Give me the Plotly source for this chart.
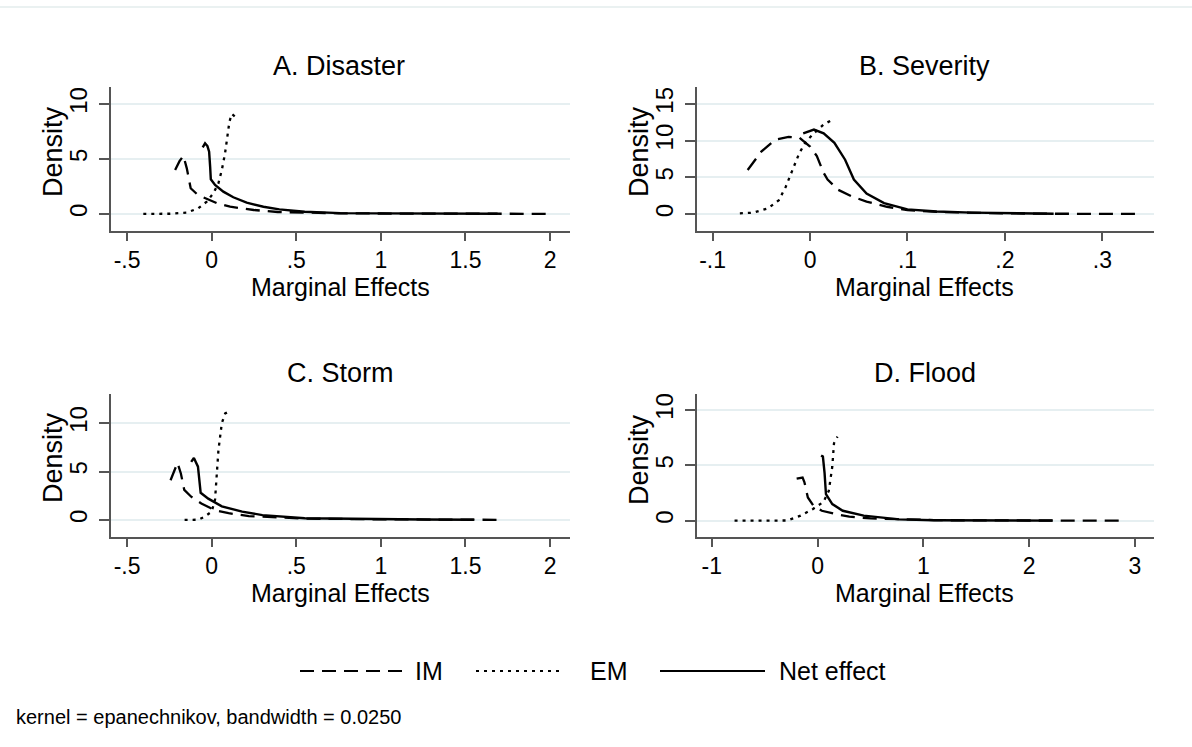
import plotly.graph_objects as go

# ---------------- data ----------------
# Panel A. Disaster
a_im_x = [-0.216, -0.19, -0.167, -0.147, -0.124, -0.088, -0.05, -0.009, 0.035, 0.109, 0.167, 0.249, 0.39, 0.55, 0.75, 1.0, 1.3, 1.6, 2.02]
a_im_y = [4.0, 4.8, 5.3, 4.15, 2.34, 1.82, 1.52, 1.27, 0.96, 0.66, 0.51, 0.36, 0.18, 0.1, 0.06, 0.04, 0.03, 0.02, 0.01]
a_em_x = [-0.404, -0.3, -0.246, -0.147, -0.079, -0.029, 0.010, 0.040, 0.060, 0.079, 0.093, 0.105, 0.119, 0.138]
a_em_y = [0.01, 0.01, 0.02, 0.12, 0.52, 1.12, 1.88, 2.79, 4.0, 5.5, 7.03, 8.4, 9.1, 8.85]
a_net_x = [-0.053, -0.039, -0.025, -0.015, -0.009, -0.005, 0.020, 0.069, 0.128, 0.207, 0.306, 0.40, 0.55, 0.76, 1.0, 1.3, 1.69]
a_net_y = [6.06, 6.43, 6.18, 5.67, 4.3, 3.15, 2.64, 2.03, 1.52, 1.03, 0.66, 0.42, 0.2, 0.08, 0.05, 0.03, 0.02]

# Panel B. Severity
b_im_x = [-0.064, -0.050, -0.036, -0.022, -0.011, 0.0, 0.007, 0.014, 0.018, 0.029, 0.043, 0.058, 0.079, 0.1, 0.13, 0.166, 0.2, 0.25, 0.3, 0.34]
b_im_y = [6.0, 8.5, 10.1, 10.5, 10.4, 9.2, 7.9, 5.6, 4.7, 3.3, 2.4, 1.7, 1.0, 0.55, 0.3, 0.18, 0.1, 0.05, 0.03, 0.02]
b_em_x = [-0.072, -0.058, -0.043, -0.032, -0.025, -0.018, -0.011, -0.004, 0.004, 0.014, 0.025]
b_em_y = [0.1, 0.2, 0.8, 1.9, 3.7, 6.0, 8.3, 9.9, 11.0, 12.2, 13.0]
b_net_x = [-0.007, 0.004, 0.014, 0.025, 0.036, 0.045, 0.058, 0.076, 0.1, 0.13, 0.166, 0.2, 0.25]
b_net_y = [11.0, 11.5, 11.0, 9.7, 7.4, 4.7, 2.8, 1.5, 0.65, 0.35, 0.2, 0.1, 0.05]

# Panel C. Storm
c_im_x = [-0.243, -0.202, -0.182, -0.162, -0.121, -0.061, 0.02, 0.1, 0.22, 0.34, 0.55, 0.95, 1.36, 1.72]
c_im_y = [4.1, 5.9, 4.8, 3.1, 2.4, 1.7, 1.0, 0.7, 0.4, 0.28, 0.14, 0.07, 0.03, 0.01]
c_em_x = [-0.16, -0.08, -0.04, 0.0, 0.02, 0.03, 0.04, 0.06, 0.08, 0.1]
c_em_y = [0.01, 0.02, 0.35, 0.86, 2.1, 4.8, 7.2, 10.0, 11.0, 11.2]
c_net_x = [-0.121, -0.105, -0.081, -0.065, -0.02, 0.06, 0.18, 0.3, 0.55, 0.95, 1.25, 1.55]
c_net_y = [6.0, 6.4, 5.5, 2.8, 2.2, 1.4, 0.86, 0.5, 0.17, 0.07, 0.04, 0.02]

# Panel D. Flood
d_im_x = [-0.198, -0.142, -0.125, -0.092, -0.043, 0.04, 0.17, 0.3, 0.5, 0.77, 1.1, 1.43, 2.09, 2.5, 2.85]
d_im_y = [3.8, 3.9, 3.5, 2.1, 1.4, 0.9, 0.6, 0.37, 0.21, 0.12, 0.06, 0.03, 0.01, 0.01, 0.01]
d_em_x = [-0.785, -0.5, -0.29, -0.16, -0.043, 0.056, 0.106, 0.139, 0.155, 0.188]
d_em_y = [0.01, 0.01, 0.02, 0.46, 1.07, 1.7, 2.7, 4.9, 7.0, 7.6]
d_net_x = [0.033, 0.05, 0.066, 0.079, 0.139, 0.238, 0.436, 0.77, 1.1, 1.6, 2.22]
d_net_y = [5.9, 5.8, 4.3, 2.4, 1.5, 0.9, 0.46, 0.12, 0.05, 0.02, 0.01]

panel_titles = ["A. Disaster", "B. Severity", "C. Storm", "D. Flood"]
series_names = ["IM", "EM", "Net effect"]

# tick values / labels
ac_xticks = [-0.5, 0, 0.5, 1, 1.5, 2]
ac_xlabels = ["-.5", "0", ".5", "1", "1.5", "2"]
b_xticks = [-0.1, 0, 0.1, 0.2, 0.3]
b_xlabels = ["-.1", "0", ".1", ".2", ".3"]
d_xticks = [-1, 0, 1, 2, 3]
d_xlabels = ["-1", "0", "1", "2", "3"]
acd_yticks = [0, 5, 10]
b_yticks = [0, 5, 10, 15]

# ---------------- figure ----------------
W, H = 1192, 747
FONT = "Liberation Sans, Arial, sans-serif"

def px(x):
    return x / W

def py(y):
    return 1 - y / H

styles = {
    "IM": dict(color="black", width=2.3, dash="14px,8px"),
    "EM": dict(color="black", width=2.3, dash="3px,5px"),
    "Net effect": dict(color="black", width=2.4, dash="solid"),
}

panels = [
    ("x", "y", [(a_im_x, a_im_y), (a_em_x, a_em_y), (a_net_x, a_net_y)]),
    ("x2", "y2", [(b_im_x, b_im_y), (b_em_x, b_em_y), (b_net_x, b_net_y)]),
    ("x3", "y3", [(c_im_x, c_im_y), (c_em_x, c_em_y), (c_net_x, c_net_y)]),
    ("x4", "y4", [(d_im_x, d_im_y), (d_em_x, d_em_y), (d_net_x, d_net_y)]),
]

fig = go.Figure()
for xa, ya, series in panels:
    for name, (xs, ys) in zip(series_names, series):
        fig.add_trace(go.Scatter(x=xs, y=ys, mode="lines", name=name,
                                 line=styles[name], xaxis=xa, yaxis=ya,
                                 showlegend=False, hoverinfo="skip"))

col1 = [px(111), px(570)]
col2 = [px(697), px(1154)]
row1 = [py(231), py(87)]
row2 = [py(537), py(394)]

def xaxis(domain, anchor, rng, tv, tt):
    return dict(domain=domain, anchor=anchor, range=rng, tickvals=tv, ticktext=tt,
                showgrid=False, zeroline=False, showline=True, linecolor="#555555",
                linewidth=1.5, ticks="outside", ticklen=8, tickwidth=1.5, tickcolor="#555555",
                tickfont=dict(family=FONT, size=23, color="black"))

def yaxis(domain, anchor, rng, tv):
    return dict(domain=domain, anchor=anchor, range=rng, tickvals=tv,
                showgrid=True, gridcolor="#e6eff1", gridwidth=2, zeroline=False,
                showline=True, linecolor="#555555", linewidth=1.5,
                ticks="outside", ticklen=10, tickwidth=1.5, tickcolor="#555555",
                tickangle=-90, ticklabelstandoff=3,
                tickfont=dict(family=FONT, size=24, color="black"))

fig.update_layout(
    width=W, height=H, autosize=False,
    margin=dict(l=0, r=0, t=0, b=0),
    paper_bgcolor="white", plot_bgcolor="white",
    xaxis=xaxis(col1, "y", [-0.595, 2.118], ac_xticks, ac_xlabels),
    yaxis=yaxis(row1, "x", [-1.55, 11.55], acd_yticks),
    xaxis2=xaxis(col2, "y2", [-0.116, 0.353], b_xticks, b_xlabels),
    yaxis2=yaxis(row1, "x2", [-2.3, 17.3], b_yticks),
    xaxis3=xaxis(col1, "y3", [-0.595, 2.118], ac_xticks, ac_xlabels),
    yaxis3=yaxis(row2, "x3", [-1.76, 13.0], acd_yticks),
    xaxis4=xaxis(col2, "y4", [-1.14, 3.18], d_xticks, d_xlabels),
    yaxis4=yaxis(row2, "x4", [-1.47, 11.45], acd_yticks),
    showlegend=False,
)

ann = []
# panel titles
for t, (cx, cy) in zip(panel_titles, [(339, 66), (925, 66), (340, 373), (925, 373)]):
    ann.append(dict(text=t, x=px(cx), y=py(cy), xref="paper", yref="paper",
                    showarrow=False, xanchor="center", yanchor="middle",
                    font=dict(family=FONT, size=27, color="black")))
# x-axis titles
for cx, cy in [(340, 287), (925, 287), (340, 593), (925, 593)]:
    ann.append(dict(text="Marginal Effects", x=px(cx), y=py(cy), xref="paper", yref="paper",
                    showarrow=False, xanchor="center", yanchor="middle",
                    font=dict(family=FONT, size=25, color="black")))
# y-axis titles
for cx, cy in [(53, 152), (639, 152), (53, 458), (639, 460)]:
    ann.append(dict(text="Density", x=px(cx), y=py(cy), xref="paper", yref="paper",
                    showarrow=False, xanchor="center", yanchor="middle", textangle=-90,
                    font=dict(family=FONT, size=27, color="black")))

# legend (manual, Stata style)
shapes = []
leg_y = 671
for name, (x0, x1), tx in zip(series_names, [(300, 405), (476, 560), (660, 765)], [413, 588, 777]):
    st = styles[name]
    shapes.append(dict(type="line", xref="paper", yref="paper",
                       x0=px(x0), x1=px(x1), y0=py(leg_y), y1=py(leg_y),
                       line=dict(color="black", width=2, dash=st["dash"])))
    ann.append(dict(text=name, x=px(tx), y=py(leg_y), xref="paper", yref="paper",
                    showarrow=False, xanchor="left", yanchor="middle",
                    font=dict(family=FONT, size=25, color="black")))

# note
ann.append(dict(text="kernel = epanechnikov, bandwidth = 0.0250", x=px(14), y=py(717),
                xref="paper", yref="paper", showarrow=False, xanchor="left", yanchor="middle",
                font=dict(family=FONT, size=20, color="black")))

# thin top border line
shapes.append(dict(type="line", xref="paper", yref="paper", x0=0, x1=1, y0=py(7), y1=py(7),
                   line=dict(color="#e3ecec", width=1.5)))

fig.update_layout(annotations=ann, shapes=shapes)
fig.write_html("out.html")
